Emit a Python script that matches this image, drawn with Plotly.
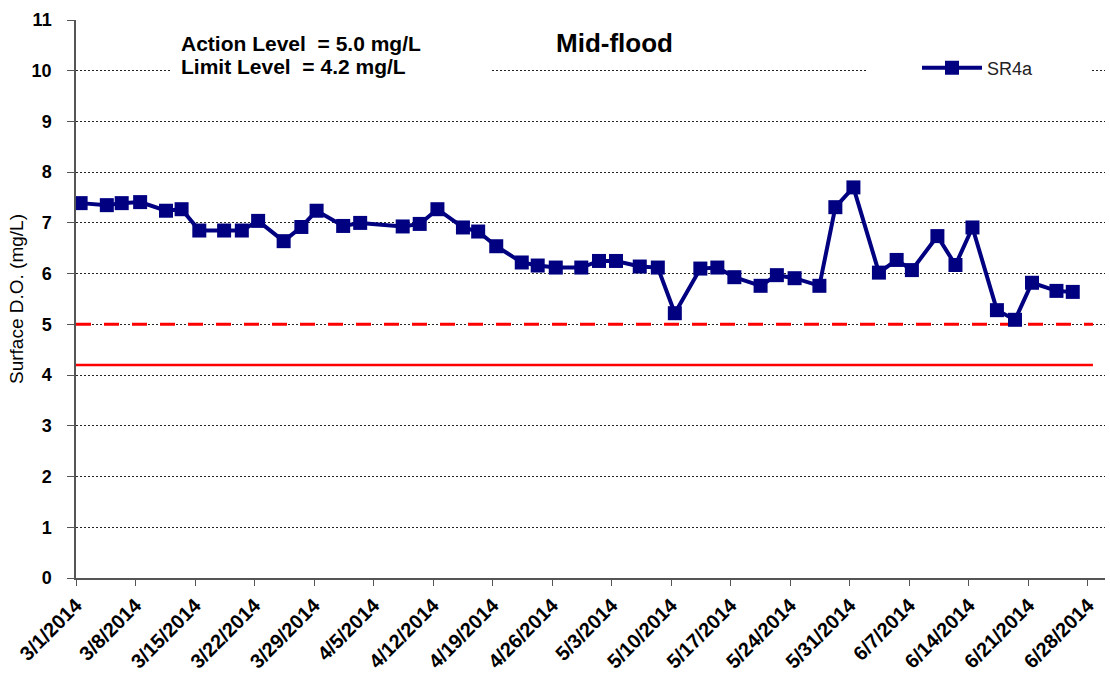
import plotly.graph_objects as go

# ---------------- data ----------------
sample_times = [
    "2014-03-01 13:00", "2014-03-04 15:00", "2014-03-06 09:00", "2014-03-08 13:00",
    "2014-03-11 14:00", "2014-03-13 10:00", "2014-03-15 12:00", "2014-03-18 10:00",
    "2014-03-20 12:00", "2014-03-22 10:00", "2014-03-25 10:00", "2014-03-27 12:00",
    "2014-03-29 07:00", "2014-04-01 10:00", "2014-04-03 10:00", "2014-04-08 10:00",
    "2014-04-10 10:00", "2014-04-12 12:00", "2014-04-15 12:00", "2014-04-17 07:00",
    "2014-04-19 10:00", "2014-04-22 10:00", "2014-04-24 07:00", "2014-04-26 10:00",
    "2014-04-29 10:00", "2014-05-01 12:00", "2014-05-03 12:00", "2014-05-06 07:00",
    "2014-05-08 10:00", "2014-05-10 10:00", "2014-05-13 10:00", "2014-05-15 10:00",
    "2014-05-17 10:00", "2014-05-20 12:00", "2014-05-22 10:00", "2014-05-24 12:00",
    "2014-05-27 10:00", "2014-05-29 07:00", "2014-05-31 10:00", "2014-06-03 10:00",
    "2014-06-05 12:00", "2014-06-07 07:00", "2014-06-10 07:00", "2014-06-12 10:00",
    "2014-06-14 10:00", "2014-06-17 07:00", "2014-06-19 10:00", "2014-06-21 10:00",
    "2014-06-24 07:00", "2014-06-26 05:00",
]
sr4a_do = [
    7.39, 7.35, 7.39, 7.41, 7.24, 7.27, 6.85, 6.85, 6.85, 7.04,
    6.64, 6.92, 7.24, 6.94, 7.00, 6.93, 6.98, 7.27, 6.91, 6.83,
    6.54, 6.22, 6.16, 6.12, 6.12, 6.25, 6.25, 6.14, 6.12, 5.22,
    6.10, 6.12, 5.93, 5.76, 5.97, 5.91, 5.76, 7.31, 7.70, 6.02,
    6.27, 6.07, 6.74, 6.17, 6.91, 5.28, 5.09, 5.82, 5.66, 5.64,
]
action_level = 5.0
limit_level = 4.2
level_span = ["2014-03-01 00:00", "2014-06-28 14:00"]

tick_dates = [
    "2014-03-01", "2014-03-08", "2014-03-15", "2014-03-22", "2014-03-29",
    "2014-04-05", "2014-04-12", "2014-04-19", "2014-04-26", "2014-05-03",
    "2014-05-10", "2014-05-17", "2014-05-24", "2014-05-31", "2014-06-07",
    "2014-06-14", "2014-06-21", "2014-06-28",
]
tick_labels = [
    "3/1/2014", "3/8/2014", "3/15/2014", "3/22/2014", "3/29/2014",
    "4/5/2014", "4/12/2014", "4/19/2014", "4/26/2014", "5/3/2014",
    "5/10/2014", "5/17/2014", "5/24/2014", "5/31/2014", "6/7/2014",
    "6/14/2014", "6/21/2014", "6/28/2014",
]
x_range = ["2014-03-01", "2014-06-30"]
y_range = [0, 11]

# ---------------- layout helpers ----------------
W, H = 1110, 677
L, R, T, B = 76, 5, 20, 99
PW, PH = W - L - R, H - T - B


def px(x):
    return (x - L) / PW


def py(y):
    return (H - B - y) / PH


FONT = "Arial, Liberation Sans, sans-serif"

fig = go.Figure()

fig.add_trace(go.Scatter(
    x=level_span, y=[action_level, action_level], mode="lines",
    line=dict(color="#FF0000", width=3, dash="15px,13px"),
    showlegend=False, hoverinfo="skip"))
fig.add_trace(go.Scatter(
    x=level_span, y=[limit_level, limit_level], mode="lines",
    line=dict(color="#FF0000", width=2.5),
    showlegend=False, hoverinfo="skip"))
fig.add_trace(go.Scatter(
    x=sample_times, y=sr4a_do, mode="lines+markers", name="SR4a",
    line=dict(color="#000080", width=4),
    marker=dict(symbol="square", size=14, color="#000080")))

# white boxes that interrupt gridlines behind the text blocks
fig.add_shape(type="rect", xref="paper", yref="paper",
              x0=px(170), x1=px(491), y0=py(82), y1=py(30),
              fillcolor="white", line=dict(width=0), layer="above")
fig.add_shape(type="rect", xref="paper", yref="paper",
              x0=px(868), x1=px(1092), y0=py(82), y1=py(55),
              fillcolor="white", line=dict(width=0), layer="above")

fig.add_annotation(xref="paper", yref="paper", x=px(179), y=py(44),
                   xanchor="left", yanchor="middle", showarrow=False,
                   text="<b>Action Level  = 5.0 mg/L</b>",
                   font=dict(family=FONT, size=21, color="black"))
fig.add_annotation(xref="paper", yref="paper", x=px(179), y=py(66),
                   xanchor="left", yanchor="middle", showarrow=False,
                   text="<b>Limit Level  = 4.2 mg/L</b>",
                   font=dict(family=FONT, size=21, color="black"))
fig.add_annotation(xref="paper", yref="paper", x=px(614), y=py(43),
                   xanchor="center", yanchor="middle", showarrow=False,
                   text="<b>Mid-flood</b>",
                   font=dict(family=FONT, size=26, color="black"))

fig.update_layout(
    width=W, height=H,
    margin=dict(l=L, r=R, t=T, b=B),
    paper_bgcolor="white", plot_bgcolor="white",
    font=dict(family=FONT, color="black"),
    showlegend=True,
    legend=dict(x=px(917), y=py(68), xanchor="left", yanchor="middle",
                bgcolor="rgba(0,0,0,0)", borderwidth=0, itemwidth=60,
                font=dict(family=FONT, size=18, color="#222")),
    xaxis=dict(
        type="date", range=x_range, tickvals=tick_dates, ticktext=tick_labels,
        tickangle=-45, ticks="outside", ticklen=6, tickcolor="#555",
        showline=True, linecolor="#555", linewidth=1.5, showgrid=False,
        zeroline=False, automargin=False,
        tickfont=dict(family=FONT, size=20, color="black", weight="bold")),
    yaxis=dict(
        range=y_range, dtick=1, tick0=0, ticks="outside", ticklen=7,
        tickcolor="#555", showline=True, linecolor="#555", linewidth=1.5,
        showgrid=True, gridcolor="#222", gridwidth=1, griddash="2px,2px",
        zeroline=False, automargin=False, ticklabelstandoff=12,
        tickfont=dict(family=FONT, size=18, color="black", weight="bold"),
        title=dict(text="Surface D.O. (mg/L)", standoff=3,
                   font=dict(family=FONT, size=19, color="black"))),
)

fig.write_html("out.html",
               config={"displayModeBar": False},
               post_script="document.body.style.margin='0px';"
                           "document.body.style.overflow='hidden';")
